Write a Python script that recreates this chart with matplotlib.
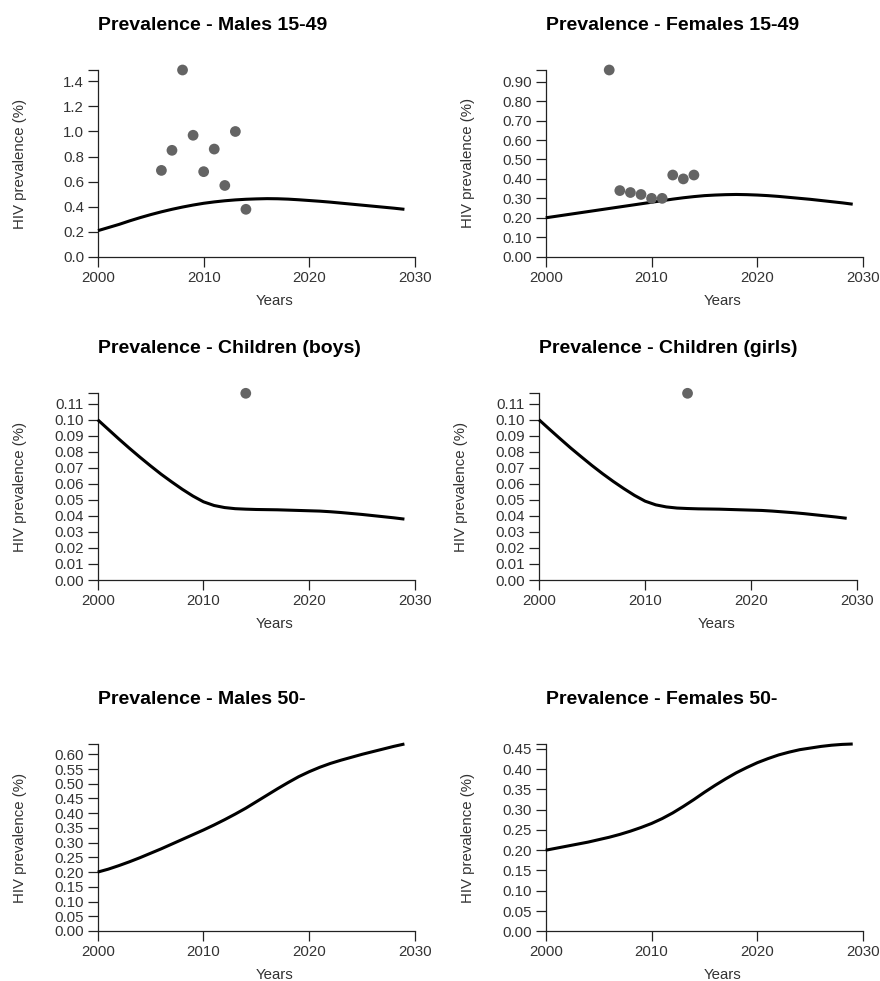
import matplotlib
matplotlib.use("Agg")
import matplotlib.pyplot as plt
from matplotlib.ticker import MultipleLocator, FormatStrFormatter
import numpy as np

plt.rcParams['font.family'] = ['Liberation Sans', 'DejaVu Sans']

years = list(range(2000, 2030))
obs_years = list(range(2006, 2015))

males_15_49_line = [0.210, 0.235, 0.260, 0.288, 0.314, 0.338, 0.360, 0.380, 0.398, 0.414,
                    0.428, 0.439, 0.448, 0.455, 0.460, 0.463, 0.465, 0.464, 0.461, 0.456,
                    0.450, 0.444, 0.437, 0.429, 0.421, 0.413, 0.405, 0.397, 0.389, 0.380]
males_15_49_obs = [0.69, 0.85, 1.49, 0.97, 0.68, 0.86, 0.57, 1.00, 0.38]

females_15_49_line = [0.200, 0.208, 0.216, 0.224, 0.232, 0.240, 0.248, 0.256, 0.264, 0.272,
                      0.280, 0.288, 0.296, 0.303, 0.309, 0.314, 0.317, 0.319, 0.320, 0.319,
                      0.317, 0.314, 0.310, 0.305, 0.300, 0.295, 0.289, 0.283, 0.277, 0.270]
females_15_49_obs = [0.96, 0.34, 0.33, 0.32, 0.30, 0.30, 0.42, 0.40, 0.42]

boys_line = [0.1000, 0.0940, 0.0880, 0.0822, 0.0766, 0.0712, 0.0660, 0.0612, 0.0566, 0.0524,
             0.0488, 0.0465, 0.0452, 0.0445, 0.0442, 0.0440, 0.0439, 0.0438, 0.0436, 0.0434,
             0.0432, 0.0430, 0.0426, 0.0421, 0.0415, 0.0409, 0.0402, 0.0395, 0.0388, 0.0380]
boys_obs_years = [2014]
boys_obs = [0.1165]

girls_line = [0.1000, 0.0940, 0.0881, 0.0823, 0.0768, 0.0714, 0.0663, 0.0615, 0.0570, 0.0528,
              0.0492, 0.0469, 0.0456, 0.0449, 0.0446, 0.0444, 0.0443, 0.0442, 0.0440, 0.0438,
              0.0436, 0.0434, 0.0430, 0.0425, 0.0420, 0.0414, 0.0407, 0.0400, 0.0393, 0.0385]
girls_obs_years = [2014]
girls_obs = [0.1165]

males_50_line = [0.200, 0.210, 0.222, 0.235, 0.249, 0.264, 0.279, 0.295, 0.311, 0.327,
                 0.343, 0.360, 0.378, 0.397, 0.417, 0.439, 0.461, 0.483, 0.504, 0.524,
                 0.541, 0.556, 0.569, 0.580, 0.590, 0.600, 0.609, 0.618, 0.627, 0.635]

females_50_line = [0.200, 0.205, 0.210, 0.215, 0.220, 0.226, 0.232, 0.239, 0.247, 0.256,
                   0.266, 0.278, 0.292, 0.308, 0.325, 0.343, 0.360, 0.376, 0.391, 0.404,
                   0.416, 0.426, 0.435, 0.442, 0.448, 0.452, 0.456, 0.459, 0.461, 0.462]

titles = ["Prevalence - Males 15-49", "Prevalence - Females 15-49",
          "Prevalence - Children (boys)", "Prevalence - Children (girls)",
          "Prevalence - Males 50-", "Prevalence - Females 50-"]
x_ticks = [2000, 2010, 2020, 2030]

panels = [
    (males_15_49_line, obs_years, males_15_49_obs, 0.2, "%.1f"),
    (females_15_49_line, obs_years, females_15_49_obs, 0.1, "%.2f"),
    (boys_line, boys_obs_years, boys_obs, 0.01, "%.2f"),
    (girls_line, girls_obs_years, girls_obs, 0.01, "%.2f"),
    (males_50_line, [], [], 0.05, "%.2f"),
    (females_50_line, [], [], 0.05, "%.2f"),
]

# axes boxes in pixels: left, right, top, bottom
boxes = [
    (98, 415, 70, 257),
    (545.7, 863.3, 70, 256.7),
    (97.7, 415, 393.3, 580),
    (539, 857.3, 393.3, 580),
    (97.7, 415, 744, 931),
    (545.7, 863.3, 744, 931.3),
]

W, H = 880, 981
fig = plt.figure(figsize=(W / 100, H / 100), dpi=100)

tick_col = '#222222'
fs = 10.8
for (line, oy, ov, step, fmt), title, (l, r, t, b) in zip(panels, titles, boxes):
    ax = fig.add_axes([l / W, 1 - b / H, (r - l) / W, (b - t) / H])
    ax.plot(years, line, color='black', lw=2.2, solid_capstyle='butt', clip_on=False, zorder=3)
    if ov:
        ax.scatter(oy, ov, s=60, color='#646464', edgecolors='none', clip_on=False, zorder=4)
    ymax = max(max(line), max(ov) if ov else 0)
    ax.set_xlim(2000, 2030)
    ax.set_ylim(0, ymax)
    ax.set_xticks(x_ticks)
    ax.yaxis.set_major_locator(MultipleLocator(step))
    ax.yaxis.set_major_formatter(FormatStrFormatter(fmt))
    ax.set_yticks([ymax], minor=True)
    ax.tick_params(axis='y', which='minor', length=7, width=0.9, color=tick_col, labelleft=False)
    ax.tick_params(axis='both', which='major', length=7, width=0.9, color=tick_col,
                   labelsize=fs, labelcolor='#333333', pad=3)
    ax.set_ylim(0, ymax)
    for s in ['top', 'right']:
        ax.spines[s].set_visible(False)
    for s in ['left', 'bottom']:
        ax.spines[s].set_linewidth(0.9)
        ax.spines[s].set_color(tick_col)
    ax.set_facecolor('none')
    wpx = r - l
    hpx = b - t
    ax.text(-78 / wpx, 0.5, "HIV prevalence (%)", rotation=90, ha='center', va='center',
            transform=ax.transAxes, fontsize=fs, color='#333333')
    ax.text(0.558, -48 / hpx, "Years", ha='center', va='baseline',
            transform=ax.transAxes, fontsize=fs, color='#333333')
    ax.text(0, 1 + 40.5 / hpx, title, ha='left', va='baseline', transform=ax.transAxes,
            fontsize=14, fontweight='bold', color='black')

fig.savefig("out.png", dpi=100)
